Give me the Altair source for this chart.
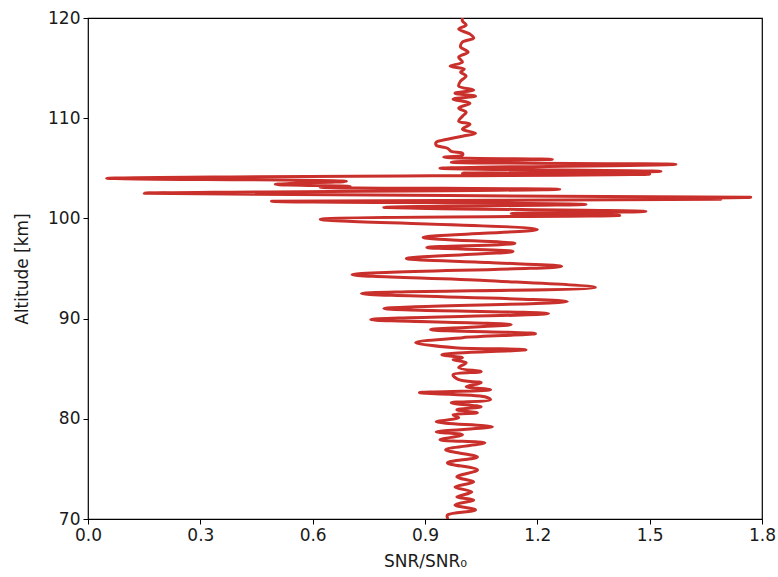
import altair as alt
import pandas as pd

# Altitude [km] and SNR/SNR0 (bottom to top)
altitude = [
    70.1, 70.4, 70.9, 71.4, 71.9, 72.2, 72.7, 73.2, 73.7, 74.2,
    74.9, 75.6, 76.2, 76.9, 77.6, 77.9, 78.4, 78.7, 79.2, 79.7,
    80.1, 80.4, 80.6, 80.9, 81.2, 81.6, 81.9, 82.2, 82.6, 82.9,
    83.2, 83.6, 83.9, 84.4, 84.7, 85.1, 85.6, 85.9, 86.1, 86.4,
    86.9, 87.1, 87.6, 88.1, 88.5, 88.9, 89.4, 89.9, 90.5, 91.0,
    91.7, 92.5, 93.1, 93.8, 94.4, 95.2, 95.6, 96.0, 96.7, 97.1,
    97.5, 98.1, 98.9, 99.9, 100.3, 100.5, 100.7, 101.1, 101.4, 101.7,
    101.9, 102.0, 102.1, 102.5, 102.9, 103.1, 103.2, 103.4, 103.7, 104.0,
    104.4, 104.5, 104.7, 105.0, 105.4, 105.6, 105.8, 105.9, 106.1, 106.3,
    106.5, 106.7, 107.0, 107.3, 107.6, 107.9, 108.2, 108.5, 108.9, 109.4,
    109.7, 110.2, 110.6, 111.0, 111.5, 111.9, 112.2, 112.5, 112.8, 113.2,
    113.7, 114.2, 114.6, 114.9, 115.2, 115.6, 116.1, 116.6, 117.1, 117.6,
    118.0, 118.4, 118.9, 119.3, 119.7, 120.0,
]
snr = [
    0.96, 0.96, 1.035, 0.98, 1.03, 0.985, 1.025, 0.98, 1.03, 0.985,
    1.04, 0.96, 1.04, 0.955, 1.06, 0.94, 1.0, 0.93, 1.08, 0.93,
    0.99, 0.975, 1.04, 0.985, 1.05, 0.97, 1.075, 1.06, 0.885, 1.075,
    1.01, 1.05, 0.99, 0.975, 1.05, 0.99, 1.01, 0.975, 1.0, 0.945,
    1.17, 0.98, 0.875, 1.0, 1.195, 0.915, 1.13, 0.755, 1.23, 0.79,
    1.28, 0.73, 1.355, 1.06, 0.705, 1.265, 1.07, 0.85, 1.135, 0.905,
    1.14, 0.895, 1.2, 0.62, 1.42, 1.13, 1.49, 0.79, 1.33, 0.49,
    1.69, 1.45, 1.77, 0.15, 1.26, 0.62, 0.7, 0.5, 0.69, 0.05,
    1.5, 1.0, 1.53, 0.94, 1.57, 0.97, 1.1, 1.24, 0.95, 1.0,
    1.0, 0.97, 0.96, 0.93, 0.93, 0.96, 1.0, 1.035, 1.0, 1.02,
    0.99, 1.0, 1.01, 0.99, 1.02, 0.975, 1.035, 0.98, 1.03, 0.99,
    0.995, 1.01, 0.995, 1.005, 0.967, 1.0, 0.99, 1.015, 0.995, 1.0,
    1.03, 1.02, 0.99, 1.01, 1.0, 1.0,
]
x_ticks = [0.0, 0.3, 0.6, 0.9, 1.2, 1.5, 1.8]
y_ticks = [70, 80, 90, 100, 110, 120]

df = pd.DataFrame({"alt": altitude, "snr": snr, "i": list(range(len(snr)))})

font = "DejaVu Sans"

chart = (
    alt.Chart(df)
    .mark_line(color="#c9302c", strokeWidth=3, strokeJoin="round", strokeCap="round",
               interpolate="catmull-rom", clip=True)
    .encode(
        x=alt.X(
            "snr:Q",
            scale=alt.Scale(domain=[0, 1.8], nice=False, zero=False),
            axis=alt.Axis(values=x_ticks, format=".1f", title="SNR/SNR₀"),
        ),
        y=alt.Y(
            "alt:Q",
            scale=alt.Scale(domain=[70, 120], nice=False, zero=False),
            axis=alt.Axis(values=y_ticks, format="d", title="Altitude [km]"),
        ),
        order="i:Q",
    )
    .properties(
        width=674,
        height=501,
        autosize=alt.AutoSizeParams(type="none"),
        padding={"left": 88, "top": 18, "right": 16, "bottom": 58},
    )
    .configure_view(stroke="#000000", strokeWidth=1.2)
    .configure_axis(
        grid=False,
        domain=False,
        tickColor="#000000",
        tickSize=5,
        tickWidth=1,
        labelFont=font,
        labelFontSize=17,
        labelColor="#1a1a1a",
        labelFlush=False,
        labelOverlap=False,
        titleFont=font,
        titleFontSize=17,
        titleFontWeight="normal",
        titleColor="#1a1a1a",
        labelPadding=3,
    )
    .configure_axisX(titlePadding=10)
    .configure_axisY(titlePadding=16)
)

chart.save("out.html", embed_options={"renderer": "svg", "actions": False})
